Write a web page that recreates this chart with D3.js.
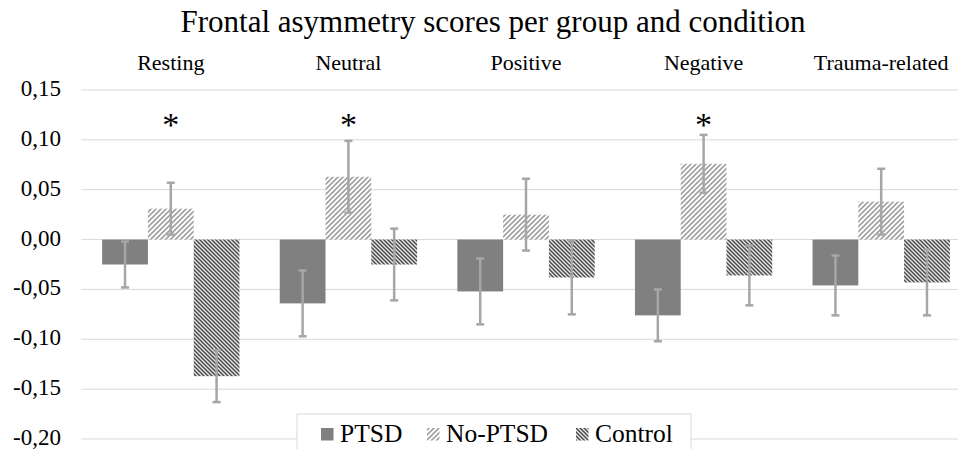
<!DOCTYPE html>
<html lang="en">
<head>
<meta charset="utf-8" />
<title>Frontal asymmetry scores</title>
<style>
  * {margin: 0; padding: 0;}
  body {background: #fff;}
  svg text {font-family: "Liberation Serif", "DejaVu Serif", Times, serif; fill: #000;}
</style>
</head>
<body>
<div id="viz"></div>
<script src="https://cdn.jsdelivr.net/npm/d3@7"></script>
<script>
var w = 958, h = 449;

// data
var conditions = ["Resting", "Neutral", "Positive", "Negative", "Trauma-related"];
var groups = ["PTSD", "No-PTSD", "Control"];
var ptsd     = [-0.025, -0.064, -0.052, -0.076, -0.046];
var ptsdErr  = [0.023, 0.033, 0.033, 0.026, 0.030];
var noPtsd   = [0.031, 0.063, 0.025, 0.076, 0.038];
var noPtsdErr= [0.026, 0.036, 0.036, 0.029, 0.033];
var control  = [-0.137, -0.025, -0.038, -0.036, -0.043];
var controlErr = [0.026, 0.036, 0.037, 0.030, 0.033];
var significant = ["Resting", "Neutral", "Negative"];   // asterisk over No-PTSD
var yTicks = [0.15, 0.10, 0.05, 0.00, -0.05, -0.10, -0.15, -0.20];

var series = [
  {name: "PTSD", values: ptsd, err: ptsdErr, fill: "#808080"},
  {name: "No-PTSD", values: noPtsd, err: noPtsdErr, fill: "url(#hatchLight)"},
  {name: "Control", values: control, err: controlErr, fill: "url(#hatchDark)"}
];

var serif = "'Liberation Serif', 'DejaVu Serif', Times, serif";

var svg = d3.select("#viz").append("svg").attr("width", w).attr("height", h)
    .attr("font-family", serif);

// hatch patterns
var defs = svg.append("defs");
var p1 = defs.append("pattern").attr("id", "hatchLight")
    .attr("patternUnits", "userSpaceOnUse").attr("width", 5).attr("height", 5);
p1.append("rect").attr("width", 5).attr("height", 5).attr("fill", "#fff");
p1.append("path").attr("d", "M0,5 L5,0 M-1,1 L1,-1 M4,6 L6,4")
    .attr("stroke", "#a0a0a0").attr("stroke-width", 1.6);
var p2 = defs.append("pattern").attr("id", "hatchDark")
    .attr("patternUnits", "userSpaceOnUse").attr("width", 4).attr("height", 4);
p2.append("rect").attr("width", 4).attr("height", 4).attr("fill", "#e8e8e8");
p2.append("path").attr("d", "M0,0 L4,4 M-1,3 L1,5 M3,-1 L5,1")
    .attr("stroke", "#4a4a4a").attr("stroke-width", 1.5);

var y = d3.scaleLinear().domain([-0.2, 0.15]).range([439, 90]);
var x0 = d3.scaleBand().domain(conditions).range([82, 970]);
var x1 = d3.scaleBand().domain(groups).range([0, x0.bandwidth()]).paddingOuter(0.44);

var fmt = function(v){ return d3.format(".2f")(v).replace(".", ",").replace("−", "-"); };

// gridlines
svg.append("g").selectAll("line").data(yTicks).enter().append("line")
    .attr("x1", 81).attr("x2", w)
    .attr("y1", function(d){ return y(d); }).attr("y2", function(d){ return y(d); })
    .attr("stroke", "#d9d9d9").attr("stroke-width", 1);

// y tick labels
svg.append("g").selectAll("text").data(yTicks).enter().append("text")
    .attr("x", 61).attr("y", function(d){ return y(d) + 6; })
    .attr("text-anchor", "end").attr("font-family", serif).style("font-size", "23px")
    .text(fmt);

// title + condition labels
svg.append("text").attr("x", 493).attr("y", 32).attr("text-anchor", "middle")
    .attr("font-family", serif).style("font-size", "31px")
    .text("Frontal asymmetry scores per group and condition");

svg.append("g").selectAll("text").data(conditions).enter().append("text")
    .attr("x", function(d){ return x0(d) + x0.bandwidth() / 2; })
    .attr("y", 70).attr("text-anchor", "middle")
    .attr("font-family", serif).style("font-size", "22px")
    .text(function(d){ return d; });

// bars
var sg = svg.selectAll("g.series").data(series).enter().append("g").attr("class", "series");
sg.selectAll("rect").data(function(s){
      return conditions.map(function(c, i){ return {c: c, v: s.values[i], e: s.err[i], s: s}; });
    }).enter().append("rect")
    .attr("x", function(d){ return x0(d.c) + x1(d.s.name); })
    .attr("width", x1.bandwidth())
    .attr("y", function(d){ return y(Math.max(0, d.v)); })
    .attr("height", function(d){ return Math.abs(y(d.v) - y(0)); })
    .attr("fill", function(d){ return d.s.fill; });

// error bars
var eb = sg.selectAll("g.err").data(function(s){
      return conditions.map(function(c, i){ return {c: c, v: s.values[i], e: s.err[i], s: s}; });
    }).enter().append("g").attr("class", "err")
    .attr("stroke", "#a6a6a6").attr("stroke-width", 2.5);
function cx(d){ return x0(d.c) + x1(d.s.name) + x1.bandwidth() / 2; }
eb.append("line").attr("x1", cx).attr("x2", cx)
    .attr("y1", function(d){ return y(d.v + d.e); }).attr("y2", function(d){ return y(d.v - d.e); });
eb.append("line").attr("x1", function(d){ return cx(d) - 4; }).attr("x2", function(d){ return cx(d) + 4; })
    .attr("y1", function(d){ return y(d.v + d.e); }).attr("y2", function(d){ return y(d.v + d.e); });
eb.append("line").attr("x1", function(d){ return cx(d) - 4; }).attr("x2", function(d){ return cx(d) + 4; })
    .attr("y1", function(d){ return y(d.v - d.e); }).attr("y2", function(d){ return y(d.v - d.e); });

// significance asterisks
svg.append("g").selectAll("text").data(significant).enter().append("text")
    .attr("x", function(d){ return x0(d) + x1("No-PTSD") + x1.bandwidth() / 2; })
    .attr("y", 136).attr("text-anchor", "middle")
    .attr("font-family", serif).style("font-size", "34px")
    .text("*");

// legend
var lg = svg.append("g");
lg.append("rect").attr("x", 297).attr("y", 414).attr("width", 394).attr("height", 40)
    .attr("fill", "#fff").attr("stroke", "#d9d9d9");
var legX = [321, 427, 576];
var li = lg.selectAll("g.li").data(series).enter().append("g")
    .attr("transform", function(d, i){ return "translate(" + legX[i] + ",0)"; });
li.append("rect").attr("x", 0).attr("y", 428).attr("width", 12.5).attr("height", 12.5)
    .attr("fill", function(d){ return d.fill; });
li.append("text").attr("x", 19).attr("y", 442)
    .attr("font-family", serif).style("font-size", "25.5px")
    .text(function(d){ return d.name; });
</script>
</body>
</html>
